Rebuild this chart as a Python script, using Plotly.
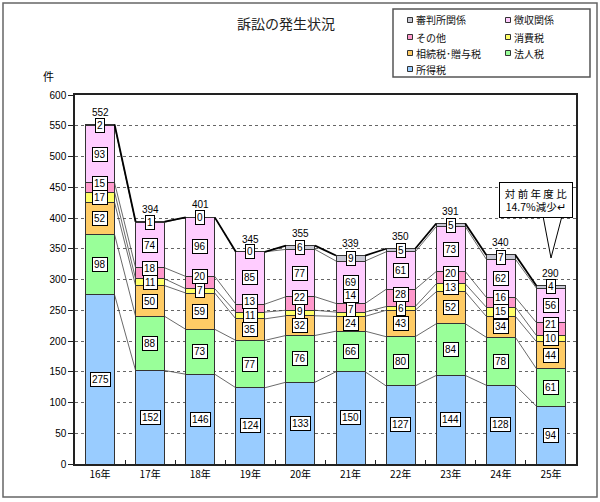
import plotly.graph_objects as go

years = ["16年", "17年", "18年", "19年", "20年", "21年", "22年", "23年", "24年", "25年"]
series_names = ["所得税", "法人税", "相続税･贈与税", "消費税", "その他", "徴収関係", "審判所関係"]
shotoku = [275, 152, 146, 124, 133, 150, 127, 144, 128, 94]
hojin = [98, 88, 73, 77, 76, 66, 80, 84, 78, 61]
sozoku = [52, 50, 59, 35, 32, 24, 43, 52, 34, 44]
shohi = [17, 11, 7, 11, 9, 7, 6, 13, 15, 10]
sonota = [15, 18, 20, 13, 22, 14, 28, 20, 16, 21]
choshu = [93, 74, 96, 85, 77, 69, 61, 73, 62, 56]
shinpan = [2, 1, 0, 0, 6, 9, 5, 5, 7, 4]
series_values = [shotoku, hojin, sozoku, shohi, sonota, choshu, shinpan]
colors = ["#99ccff", "#99ff99", "#ffcc66", "#ffff66", "#ff99cc", "#ffccff", "#c8c8d4"]
y_ticks = list(range(0, 601, 50))
title_text = "訴訟の発生状況"
unit_text = "件"
callout_text = "対 前 年 度 比<br>14.7%減少↵"

W, H = 600, 502
ML, MR, MT, MB = 75, 24, 95, 38
PW, PH = W - ML - MR, H - MT - MB


def px(x):
    return (x - ML) / PW


def py(y):
    return (H - MB - y) / PH


FONT = "Liberation Sans, Noto Sans CJK JP, sans-serif"
JFONT = "Noto Sans CJK JP, sans-serif"
BW = 0.58
n = len(years)
xs = list(range(n))
MIN_GAP = 14 * 600 / PH  # minimum spacing of label boxes, in data units

fig = go.Figure()
for name, vals, col in zip(series_names, series_values, colors):
    fig.add_trace(go.Bar(x=xs, y=vals, name=name, width=BW,
                         marker=dict(color=col, line=dict(color="#333333", width=1)),
                         showlegend=False, hoverinfo="y+name"))

# cumulative levels
cums = []
run = [0] * n
for vals in series_values:
    run = [a + b for a, b in zip(run, vals)]
    cums.append(run[:])

# series lines
for k, lvl in enumerate(cums):
    lx, ly = [], []
    for i in range(n - 1):
        lx += [i + BW / 2, i + 1 - BW / 2, None]
        ly += [lvl[i], lvl[i + 1], None]
    top = k == len(cums) - 1
    fig.add_trace(go.Scatter(x=lx, y=ly, mode="lines", showlegend=False, hoverinfo="skip",
                             line=dict(color="#000000" if top else "#444444",
                                       width=1.8 if top else 0.8)))

annotations = []
base = [0] * n
prev_pos = [None] * n
for vals in series_values:
    for i in range(n):
        pos = base[i] + vals[i] / 2
        if prev_pos[i] is not None and pos < prev_pos[i] + MIN_GAP:
            pos = prev_pos[i] + MIN_GAP if vals[i] < 40 else pos
        prev_pos[i] = pos
        annotations.append(dict(x=i, y=pos, text=str(vals[i]), showarrow=False,
                                xanchor="center", yanchor="middle", height=11,
                                font=dict(family=FONT, size=10, color="#000"),
                                bgcolor="white", bordercolor="#000", borderwidth=1, borderpad=1))
        base[i] += vals[i]
for i in range(n):
    annotations.append(dict(x=i, y=base[i], text=str(base[i]), showarrow=False, yanchor="bottom",
                            xanchor="center", yshift=5, font=dict(family=FONT, size=10, color="#000")))

# title and unit
annotations.append(dict(xref="paper", yref="paper", x=px(286), y=py(23), text=title_text,
                        xanchor="center", yanchor="middle", showarrow=False,
                        font=dict(family=JFONT, size=14, color="#222")))
annotations.append(dict(xref="paper", yref="paper", x=px(48), y=py(76), text=unit_text,
                        xanchor="center", yanchor="middle", showarrow=False,
                        font=dict(family=JFONT, size=11, color="#000")))

# legend (manual two-column layout)
legend_order = [6, 5, 4, 3, 2, 1, 0]
shapes = []
for j, idx in enumerate(legend_order):
    col_i, row_i = j % 2, j // 2
    sx = 410 if col_i == 0 else 508
    sy = [20, 37, 53, 69][row_i]
    shapes.append(dict(type="rect", xref="paper", yref="paper", x0=px(sx - 2.5), x1=px(sx + 2.5),
                       y0=py(sy + 2.5), y1=py(sy - 2.5), fillcolor=colors[idx],
                       line=dict(color="#333", width=1)))
    annotations.append(dict(xref="paper", yref="paper", x=px(sx + 4), y=py(sy), xanchor="left",
                            yanchor="middle", text=series_names[idx], showarrow=False,
                            font=dict(family=JFONT, size=10, color="#111")))
shapes.append(dict(type="rect", xref="paper", yref="paper", x0=px(393), x1=px(590),
                   y0=py(77), y1=py(9), line=dict(color="#555", width=1.5), fillcolor="rgba(0,0,0,0)"))

# outer border
shapes.append(dict(type="rect", xref="paper", yref="paper", x0=px(3), x1=px(597),
                   y0=py(497), y1=py(3), line=dict(color="#666", width=1.5), layer="below"))

# callout pointer
shapes.append(dict(type="path", xref="paper", yref="paper",
                   path=f"M {px(543)} {py(216)} L {px(551)} {py(258)} L {px(562)} {py(216)} Z",
                   fillcolor="white", line=dict(color="#000", width=1)))
annotations.append(dict(xref="paper", yref="paper", x=px(535.5), y=py(199.5), text=callout_text,
                        xanchor="center", yanchor="middle",
                        showarrow=False, align="center", width=70, height=32,
                        font=dict(family=JFONT, size=10.5, color="#000"),
                        bgcolor="white", bordercolor="#000", borderwidth=1, borderpad=1))

fig.update_layout(
    width=W, height=H, margin=dict(l=ML, r=MR, t=MT, b=MB),
    barmode="stack", plot_bgcolor="white", paper_bgcolor="white",
    annotations=annotations, shapes=shapes, showlegend=False,
    font=dict(family=FONT, size=10, color="#000"),
)
fig.update_xaxes(range=[-0.5, n - 0.5], tickvals=xs, ticktext=years, showgrid=False,
                 showline=True, mirror=True, linecolor="#222", linewidth=1.5, ticks="",
                 tickfont=dict(family=JFONT, size=10),
                 minor=dict(tickvals=[i + 0.5 for i in range(n - 1)], ticks="inside",
                            ticklen=4, tickcolor="#222"))
fig.update_yaxes(range=[0, 600], tickvals=y_ticks, showgrid=True, gridcolor="#666",
                 griddash="dot", gridwidth=1, showline=True, mirror=True, linecolor="#222",
                 linewidth=1.5, ticks="outside", ticklen=5, tickcolor="#222",
                 tickfont=dict(family=FONT, size=10), zeroline=False)

fig.write_html("out.html", config={"displayModeBar": False},
               post_script="document.body.style.margin='0px';")
